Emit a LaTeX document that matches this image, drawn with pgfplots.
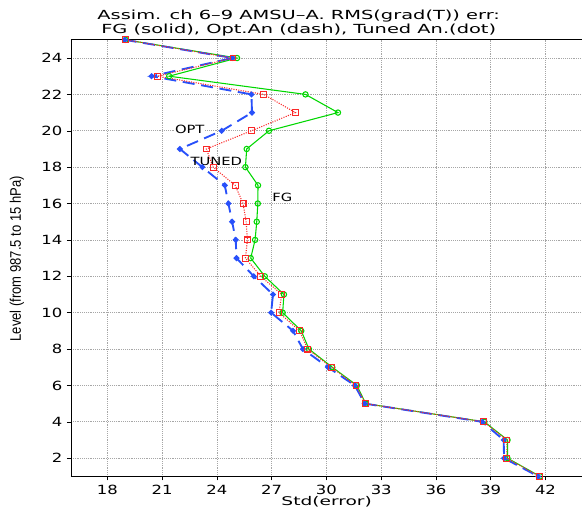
\documentclass[border=0pt]{standalone}
\usepackage{fontspec}
\setmainfont{DejaVu Sans}
\newfontfamily\gfont[FakeStretch=1.3]{DejaVu Sans}
\newfontfamily\tfont[FakeStretch=1.55]{DejaVu Sans}
\newfontfamily\nfont[FakeStretch=0.85]{Liberation Sans}
\usepackage{pgfplots}
\usepackage{pgfplotstable}
\pgfplotsset{compat=1.18}
\definecolor{gr}{RGB}{0,215,0}
\definecolor{rd}{RGB}{250,40,40}
\definecolor{bl}{RGB}{40,80,250}
\pgfplotstableread{
lev fg opt tun
25 19.0 18.95 19.0
24 25.1 24.85 24.88
23 21.38 20.42 20.74
22 28.85 25.89 26.56
21 30.63 25.92 28.3
20 26.85 24.26 25.89
19 25.63 21.97 23.42
18 25.56 23.2 23.79
17 26.25 24.43 25.0
16 26.24 24.63 25.43
15 26.18 24.83 25.6
14 26.09 25.03 25.67
13 25.85 25.07 25.56
12 26.62 26.02 26.4
11 27.67 27.07 27.55
10 27.6 26.97 27.4
9 28.62 28.17 28.53
8 29.04 28.71 28.97
7 30.32 30.08 30.27
6 31.67 31.55 31.62
5 32.15 32.1 32.13
4 38.65 38.53 38.62
3 39.92 39.71 39.88
2 39.92 39.73 39.88
1 41.7 41.6 41.67
}\datatab
\begin{document}
\begin{tikzpicture}
\begin{axis}[
  scale only axis,
  width=383.7pt, height=327.75pt,
  xmin=16, xmax=44, ymin=1, ymax=25,
  xtick={18,21,...,42}, ytick={2,4,...,24},
  axis x line*=bottom, axis y line*=left,
  tick align=outside, tick style={black, thin},
  major tick length=3pt,
  grid=major,
  grid style={densely dotted, gray!70, line width=0.5pt},
  tick label style={font=\gfont\fontsize{9.5}{10}\selectfont},
  /pgf/number format/assume math mode=true,
  clip=false,
  axis line style={line width=0.6pt, -},
]
\draw[line width=0.6pt] (rel axis cs:0,1) -- (rel axis cs:1,1);
\addplot[gr, line width=0.8pt, mark=o, mark size=2pt, mark options={solid}] table[x=fg, y=lev] {\datatab};
\addplot[bl, line width=1.4pt, dash pattern=on 9pt off 5pt, mark=*, mark size=1.4pt, mark options={solid}] table[x=opt, y=lev] {\datatab};
\addplot[rd, line width=0.8pt, densely dotted, mark=square, mark size=2.2pt, mark options={solid, line width=0.8pt}] table[x=tun, y=lev] {\datatab};
\node[font=\tfont\fontsize{9.4}{10.5}\selectfont, align=center] at (axis cs:28.48,25.9) {Assim. ch 6–9 AMSU–A. RMS(grad(T)) err:\\FG (solid), Opt.An (dash), Tuned An.(dot)};
\node[font=\nfont\fontsize{11.5}{12}\selectfont, rotate=90] at (axis cs:13.04,12.96) {Level (from 987.5 to 15 hPa)};
\node[font=\tfont\fontsize{9}{10}\selectfont, inner sep=0pt] at (axis cs:30.01,-0.38) {Std(error)};
\node[font=\gfont\fontsize{8.5}{10}\selectfont, fill=white, inner sep=0.5pt] at (axis cs:22.51,20.1) {OPT};
\node[font=\gfont\fontsize{8.5}{10}\selectfont, inner sep=0.5pt] at (axis cs:23.96,18.34) {TUNED};
\node[font=\gfont\fontsize{8.5}{10}\selectfont, inner sep=0.5pt] at (axis cs:27.58,16.33) {FG};
\coordinate (bbl) at (axis cs:12.114,-0.665);
\coordinate (btr) at (axis cs:44,27.19);
\end{axis}
\pgfresetboundingbox
\path (bbl) rectangle (btr);
\end{tikzpicture}
\end{document}
